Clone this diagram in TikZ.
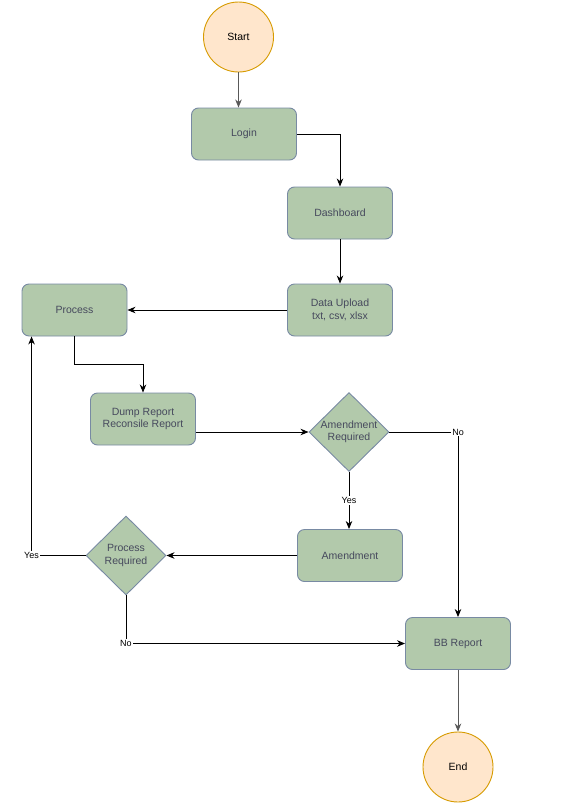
\documentclass[tikz,border=0pt]{standalone}
\usepackage{fontspec}
\setmainfont{Liberation Sans}
\usetikzlibrary{shapes.geometric,arrows.meta}
\definecolor{gfill}{HTML}{B2C9AB}
\definecolor{gline}{HTML}{788AA3}
\definecolor{gtext}{HTML}{46495D}
\definecolor{ofill}{HTML}{FFE6CC}
\definecolor{oline}{HTML}{D79B00}
\tikzset{
  box/.style={draw=gline, fill=gfill, text=gtext, rounded corners=7pt, line width=0.9pt,
    minimum width=105pt, minimum height=52pt, inner sep=0pt, align=center,
    font=\fontsize{10.5}{12.5}\selectfont},
  term/.style={circle, draw=oline, fill=ofill, line width=0.9pt, minimum size=70pt, inner sep=0pt,
    font=\fontsize{10.5}{12.5}\selectfont, text=black},
  diam/.style={diamond, draw=gline, fill=gfill, line width=0.9pt, minimum width=80pt, minimum height=79pt,
    inner sep=0pt},
  dtext/.style={text=gtext, align=center, font=\fontsize{10.5}{12.5}\selectfont, inner sep=0pt},
  arr/.style={draw=black, line width=0.9pt, -{Stealth[length=8pt,width=6.5pt,inset=2.5pt]}},
  garr/.style={arr, draw=black!65},
  lbl/.style={fill=white, text=black, inner sep=1pt, font=\fontsize{9}{10}\selectfont},
}
\begin{document}
\begin{tikzpicture}[x=1pt,y=-1pt]
\useasboundingbox (0,0) rectangle (560,809);
\node[term] (start) at (238.5,37) {Start};
\node[box] (login) at (244,134) {Login};
\node[box] (dash) at (340,213) {Dashboard};
\node[box] (upload) at (340,310) {Data Upload\\txt, csv, xlsx};
\node[box] (proc) at (74.5,310) {Process};
\node[box] (dump) at (143,419) {Dump Report\\Reconsile Report};
\node[diam] (ar) at (349,432) {};
\node[dtext] (art) at (ar) {Amendment\\Required};
\node[box] (amend) at (350,555.5) {Amendment};
\node[diam] (pr) at (126,555.5) {};
\node[dtext] (prt) at (pr) {Process\\Required};
\node[box] (bb) at (458,643.5) {BB Report};
\node[term] (end) at (458,767) {End};

\draw[garr] (start.south) -- (start.south |- login.north);
\draw[arr] (login.east) -| (dash.north);
\draw[arr] (dash.south) -- (upload.north);
\draw[arr] (upload.west) -- (proc.east);
\draw[arr] (proc.south) -- ++(0,28) -| (dump.north);
\draw[arr] (dump.east |- ar.west) -- (ar.west);
\draw[arr] (ar.east) -| node[lbl, pos=0.5] {No} (bb.north);
\draw[arr] (ar.south) -- node[lbl] {Yes} (amend.north -| ar.south);
\draw[arr] (amend.west) -- (pr.east);
\draw[arr] (pr.west) -| node[lbl, pos=0.5] {Yes} ([xshift=10pt]proc.south west);
\draw[arr] (pr.south) |- node[lbl, pos=0.5] {No} (bb.west);
\draw[garr] (bb.south) -- (end.north);
\end{tikzpicture}
\end{document}
